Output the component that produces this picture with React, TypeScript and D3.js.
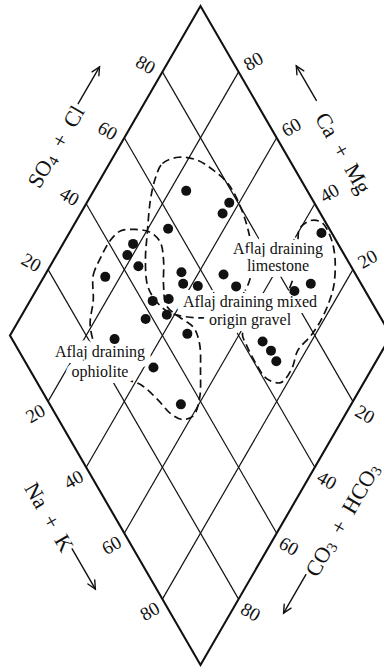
import React from 'react';
import * as d3 from 'd3';

// ---- data (percent of SO4+Cl and Na+K for each sample) ----
const ticks = [20, 40, 60, 80];
const so4cl = [68.2, 77.7, 74.3, 57.7, 97.3, 46.2, 43.0, 44.2, 33.9, 54.6, 53.3, 56.8, 65.3, 66.8, 81.4, 86.8, 42.7, 47.2, 38.1, 44.3, 46.8, 26.9, 65.4, 66.2, 66.0, 32.8, 34.4];
const nak = [24.3, 37.4, 37.3, 25.3, 66.2, 18.4, 18.6, 23.2, 16.1, 35.4, 37.6, 41.8, 46.8, 51.9, 67.9, 71.1, 32.2, 36.1, 33.1, 38.0, 46.3, 28.0, 67.2, 70.8, 73.8, 42.5, 55.3];

// envelopes as [SO4+Cl, Na+K]
const envMixed: [number, number][] = [
  [62.0, 14.3], [66.1, 13.9], [71.3, 17.2], [75.8, 22.6], [78.5, 28.4], [80.3, 34.4], [80.0, 41.1],
  [78.3, 47.0], [75.4, 52.0], [70.5, 54.7], [64.1, 54.3], [55.5, 49.8], [48.9, 43.2], [45.0, 37.7],
  [43.5, 32.8], [43.7, 28.5], [47.0, 24.1], [51.7, 20.4], [57.4, 16.3],
];
const envOphiolite: [number, number][] = [
  [27.2, 16.5], [31.0, 12.7], [35.4, 12.0], [40.8, 11.9], [44.8, 13.1], [49.0, 16.8], [52.5, 21.2],
  [53.6, 25.3], [51.7, 28.9], [47.9, 32.7], [45.6, 36.5], [47.1, 41.3], [49.4, 47.0], [48.5, 51.0],
  [44.7, 55.3], [40.2, 59.3], [36.0, 60.3], [32.5, 58.0], [30.3, 54.0], [29.0, 48.4], [26.8, 41.7],
  [21.6, 33.7], [20.6, 25.2], [22.6, 19.5],
];
const envLimestone: [number, number][] = [
  [92.3, 59.8], [96.4, 61.5], [99.0, 64.7], [99.0, 69.5], [97.0, 73.6], [92.6, 77.4], [88.7, 78.7],
  [83.9, 79.3], [79.0, 79.0], [73.3, 77.8], [68.9, 79.0], [63.9, 78.2], [60.8, 73.9], [60.3, 68.6],
  [60.6, 63.6], [61.4, 60.7], [67.8, 62.7], [75.5, 66.6], [79.4, 66.4], [85.9, 64.6], [89.5, 61.6],
];
const envelopes = [envMixed, envOphiolite, envLimestone];

const groupLabelLines = [
  ['Aflaj draining', 'limestone'],
  ['Aflaj draining mixed', 'origin gravel'],
  ['Aflaj draining', 'ophiolite'],
];

// ---- layout ----
const W = 384, H = 670;
const T = { x: 200.5, y: 6 };
const L = { x: 10, y: 335.5 };
const B = { x: 200.5, y: 665 };
const R = { x: T.x + B.x - L.x, y: T.y + B.y - L.y };
const FONT = '"Liberation Serif", "Times New Roman", serif';
const INK = '#111';

const frac = d3.scaleLinear().domain([0, 100]).range([0, 1]);
function proj(u: number, v: number): [number, number] {
  const a = frac(u), b = frac(v);
  return [L.x + a * (T.x - L.x) + b * (B.x - L.x), L.y + a * (T.y - L.y) + b * (B.y - L.y)];
}
const S3 = Math.sqrt(3) / 2;

function edgePt(P0: any, P1: any, t: number, n: number, nx: number, ny: number): [number, number] {
  return [P0.x + t * (P1.x - P0.x) + n * nx, P0.y + t * (P1.y - P0.y) + n * ny];
}

function Arrow({ from, to }: { from: [number, number]; to: [number, number] }) {
  const ang = Math.atan2(to[1] - from[1], to[0] - from[0]);
  const hl = 9, ha = (26 * Math.PI) / 180;
  const p1 = [to[0] - hl * Math.cos(ang - ha), to[1] - hl * Math.sin(ang - ha)];
  const p2 = [to[0] - hl * Math.cos(ang + ha), to[1] - hl * Math.sin(ang + ha)];
  return (
    <g stroke={INK} strokeWidth={1.4} fill="none" strokeLinecap="round">
      <line x1={from[0]} y1={from[1]} x2={to[0]} y2={to[1]} />
      <polyline points={`${p1[0]},${p1[1]} ${to[0]},${to[1]} ${p2[0]},${p2[1]}`} />
    </g>
  );
}

export default function App() {
  const line = d3.line<[number, number]>()
    .x((d) => proj(d[0], d[1])[0])
    .y((d) => proj(d[0], d[1])[1])
    .curve(d3.curveCatmullRomClosed.alpha(0.5));

  const outline = [proj(0, 0), proj(100, 0), proj(100, 100), proj(0, 100)];

  const tickLabels: { x: number; y: number; rot: number; text: string }[] = [];
  ticks.forEach((k) => {
    let p = proj(k, 0);
    tickLabels.push({ x: p[0] - 18 * S3 - 2 * 0.5, y: p[1] - 18 * 0.5 + 2 * S3, rot: 30, text: String(k) });
    p = proj(100, k);
    tickLabels.push({ x: p[0] + 18 * S3 - 2 * 0.5, y: p[1] - 18 * 0.5 - 2 * S3, rot: -30, text: String(100 - k) });
    p = proj(0, k);
    tickLabels.push({ x: p[0] - 17 * S3 + 4 * 0.5, y: p[1] + 17 * 0.5 + 4 * S3, rot: -30, text: String(k) });
    p = proj(k, 100);
    tickLabels.push({ x: p[0] + 17 * S3 - 5 * 0.5, y: p[1] + 17 * 0.5 + 5 * S3, rot: 30, text: String(100 - k) });
  });

  const so4Pos = edgePt(L, T, 0.49, 55, -S3, -0.5);
  const caPos = edgePt(T, R, 0.522, 50, S3, -0.5);
  const naPos = edgePt(L, B, 0.465, 57, -S3, 0.5);
  const coPos = edgePt(R, B, 0.483, 50, S3, 0.5);

  const labelPos = [
    { x: 278, ys: [253.5, 271] },
    { x: 250, ys: [306.5, 324.5] },
    { x: 100, ys: [357, 377] },
  ];

  const sub = { fontSize: 15 };

  return (
    <svg width={W} height={H} style={{ position: 'absolute', left: 0, top: 0, background: '#fff' }} fontFamily={FONT}>
      <rect x={0} y={0} width={W} height={H} fill="#fff" />
      <g stroke={INK} strokeWidth={1.2}>
        {ticks.map((k) => {
          const a = proj(k, 0), b = proj(k, 100);
          const c = proj(0, k), d = proj(100, k);
          return (
            <g key={k}>
              <line x1={a[0]} y1={a[1]} x2={b[0]} y2={b[1]} />
              <line x1={c[0]} y1={c[1]} x2={d[0]} y2={d[1]} />
            </g>
          );
        })}
      </g>
      <polygon points={outline.map((p) => p.join(',')).join(' ')} fill="none" stroke={INK} strokeWidth={2.1} strokeLinejoin="miter" />
      <g fill="none" stroke={INK} strokeWidth={1.7} strokeDasharray="8 4.5">
        {envelopes.map((e, i) => <path key={i} d={line(e) || ''} />)}
      </g>
      <g fontSize={16} textAnchor="middle" fill={INK} stroke="#fff" strokeWidth={12} strokeLinejoin="round" style={{ paintOrder: 'stroke' } as any}>
        {groupLabelLines.map((lines, i) =>
          lines.map((t, j) => (
            <text key={i + '-' + j} x={labelPos[i].x} y={labelPos[i].ys[j]}>{t}</text>
          ))
        )}
      </g>
      <g fill={INK}>
        {so4cl.map((u, i) => {
          const p = proj(u, nak[i]);
          return <circle key={i} cx={p[0]} cy={p[1]} r={5} />;
        })}
      </g>
      <g fontSize={19} textAnchor="middle" fill={INK}>
        {tickLabels.map((t, i) => (
          <text key={i} x={t.x} y={t.y} dominantBaseline="central" transform={`rotate(${t.rot},${t.x},${t.y})`}>{t.text}</text>
        ))}
      </g>
      <g fontSize={22} textAnchor="middle" fill={INK}>
        <text x={so4Pos[0]} y={so4Pos[1]} dominantBaseline="central" transform={`rotate(-60,${so4Pos[0]},${so4Pos[1]})`}>
          SO<tspan dy={5} style={sub}>4</tspan><tspan dy={-5}>{'\u2002+\u2002Cl'}</tspan>
        </text>
        <text x={caPos[0]} y={caPos[1]} dominantBaseline="central" transform={`rotate(60,${caPos[0]},${caPos[1]})`}>
          {'Ca\u2002+\u2002Mg'}
        </text>
        <text x={naPos[0]} y={naPos[1]} dominantBaseline="central" transform={`rotate(60,${naPos[0]},${naPos[1]})`}>
          {'Na\u2002+\u2002K'}
        </text>
        <text x={coPos[0]} y={coPos[1]} dominantBaseline="central" transform={`rotate(-60,${coPos[0]},${coPos[1]})`}>
          CO<tspan dy={5} style={sub}>3</tspan><tspan dy={-5}>{'\u2002+\u2002HCO'}</tspan><tspan dy={5} style={sub}>3</tspan>
        </text>
      </g>
      <Arrow from={edgePt(L, T, 0.617, 57, -S3, -0.5)} to={edgePt(L, T, 0.729, 57, -S3, -0.5)} />
      <Arrow from={edgePt(T, R, 0.367, 53, S3, -0.5)} to={edgePt(T, R, 0.262, 53, S3, -0.5)} />
      <Arrow from={edgePt(L, B, 0.567, 53, -S3, 0.5)} to={edgePt(L, B, 0.689, 53, -S3, 0.5)} />
      <Arrow from={edgePt(R, B, 0.656, 46, S3, 0.5)} to={edgePt(R, B, 0.773, 46, S3, 0.5)} />
    </svg>
  );
}
